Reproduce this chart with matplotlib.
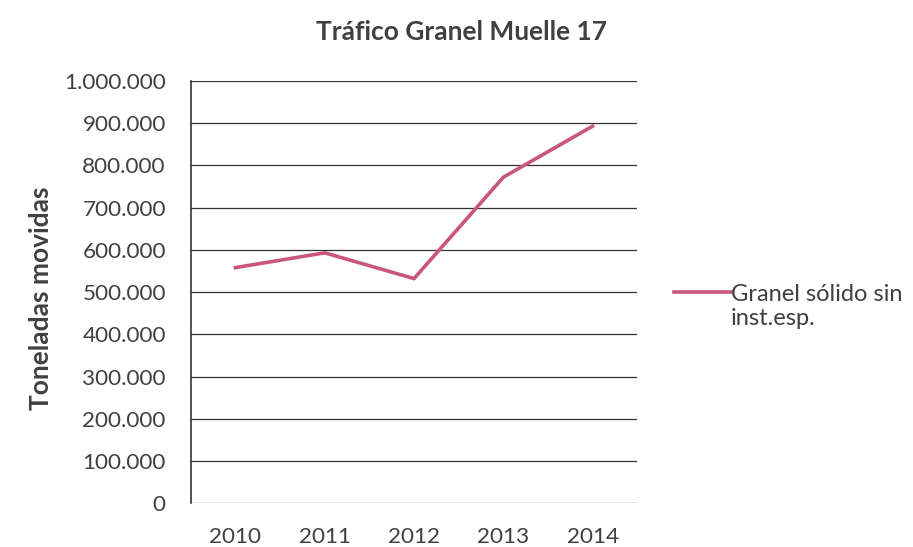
import matplotlib.pyplot as plt
from matplotlib.ticker import FuncFormatter

plt.rcParams['font.family'] = ['Lato', 'DejaVu Sans']

years = ['2010', '2011', '2012', '2013', '2014']
toneladas = [558000, 593000, 532000, 772000, 893000]
serie = 'Granel sólido sin\ninst.esp.'

txt = '#404040'

fig = plt.figure(figsize=(9.13, 5.47), dpi=100)
ax = fig.add_axes([0.209, 0.080, 0.489, 0.772])

x = range(len(years))
ax.plot(x, toneladas, color='#C9567C', lw=2.6, label=serie, solid_joinstyle='miter')

ax.set_xlim(-0.5, len(years) - 0.5)
ax.set_ylim(0, 1000000)
ax.set_yticks(range(0, 1000001, 100000))
ax.yaxis.set_major_formatter(FuncFormatter(lambda v, p: f'{int(v):,}'.replace(',', '.')))
ax.set_xticks(list(x))
ax.set_xticklabels(years)
ax.grid(axis='y', color='#333333', lw=0.9)
ax.set_axisbelow(True)
for s in ['top', 'right', 'bottom']:
    ax.spines[s].set_visible(False)
ax.spines['left'].set_color('#333333')
ax.spines['left'].set_linewidth(1.2)
ax.tick_params(axis='both', length=0, labelsize=16.2, colors=txt)
ax.tick_params(axis='y', pad=18)
ax.tick_params(axis='x', pad=17)

fig.text(0.045, 0.455, 'Toneladas movidas', rotation=90, ha='center', va='center',
         fontsize=19, fontweight='bold', color=txt)
fig.text(0.505, 0.942, 'Tráfico Granel Muelle 17', ha='center', va='center',
         fontsize=19, fontweight='bold', color=txt)

leg = ax.legend(loc='upper left', bbox_to_anchor=(1.083, 0.519), frameon=False,
                fontsize=17, handlelength=2.4, handletextpad=0.0,
                labelcolor=txt, borderpad=0, borderaxespad=0)
# keep the legend line level with the first row of text
for col in leg._legend_handle_box.get_children():
    for row in col.get_children():
        row.align = 'top'

fig.savefig('out.png', dpi=100)
